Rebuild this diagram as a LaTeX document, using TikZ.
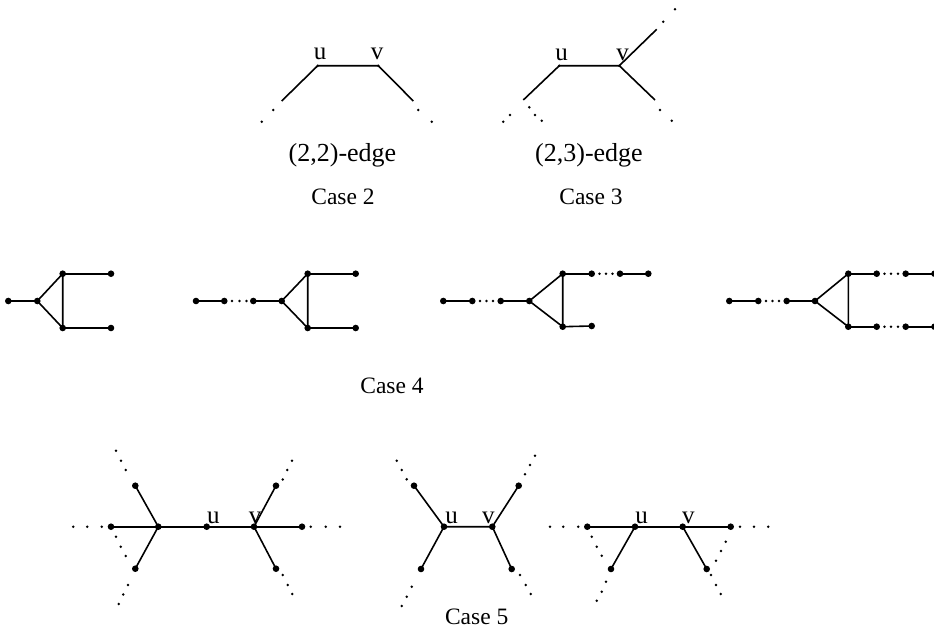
\documentclass[tikz,border=0pt]{standalone}
\usepackage{fontspec}
\setmainfont{Liberation Serif}
\begin{document}
\begin{tikzpicture}[x=0.5pt,y=-0.5pt,
  edge/.style={line width=0.8pt},
  bv/.style={circle,fill,inner sep=0pt,minimum size=3.3pt},
  tv/.style={circle,fill,inner sep=0pt,minimum size=1.4pt},
  lab/.style={font=\fontsize{12.5}{14}\selectfont,anchor=base,inner sep=0pt},
  caplab/.style={font=\fontsize{11.75}{14}\selectfont,inner sep=0pt},
  elab/.style={font=\fontsize{13}{15}\selectfont,inner sep=0pt}]
\useasboundingbox (0,0) rectangle (934,632);

% ---------------- Case 2 ----------------
\node[tv] (c2u) at (317.7,65.7) {};
\node[tv] (c2v) at (378.3,65.7) {};
\coordinate (c2a) at (281.7,101);
\coordinate (c2b) at (413.3,101);
\draw[edge] (c2a) -- (c2u.center) -- (c2v.center) -- (c2b);
\foreach \p in {(273.3,110),(261.7,121.7),(418.3,110),(431.7,121.7)} \fill \p circle (0.7pt);
\node[lab] (c2ul) at (320,59.5) {u};
\node[lab] (c2vl) at (377,59.5) {v};
\node[elab] (c2e) at (342.5,155) {(2,2)-edge};
\node[caplab] (c2c) at (343,196.7) {Case 2};

% ---------------- Case 3 ----------------
\node[tv] (c3u) at (559.3,65.7) {};
\node[tv] (c3v) at (619.3,65.7) {};
\coordinate (c3ll) at (523.3,100);
\coordinate (c3ur) at (656.7,29.3);
\coordinate (c3lr) at (655,100);
\draw[edge] (c3ll) -- (c3u.center) -- (c3v.center) -- (c3ur);
\draw[edge] (c3v.center) -- (c3lr);
\foreach \p in {(663.3,21.7),(675,9.3),(660,110),(671.7,120.7),(510,115),(503.3,121.7),(529.3,107.3),(535,115),(541.7,120.7)} \fill \p circle (0.7pt);
\node[lab] (c3ul) at (561.7,60) {u};
\node[lab] (c3vl) at (622.7,60) {v};
\node[elab] (c3e) at (589,155) {(2,3)-edge};
\node[caplab] (c3c) at (591,196.7) {Case 3};

% ---------------- Case 4, graph 1 ----------------
\node[bv] (a1) at (8.3,301) {};
\node[bv] (a2) at (37.3,301) {};
\node[bv] (a3) at (62.7,273.7) {};
\node[bv] (a4) at (62.7,328) {};
\node[bv] (a5) at (111,273.7) {};
\node[bv] (a6) at (111,328) {};
\draw[edge] (a1.center) -- (a2.center) -- (a3.center) -- (a4.center) -- (a2.center);
\draw[edge] (a3.center) -- (a5.center);
\draw[edge] (a4.center) -- (a6.center);

% ---------------- Case 4, graph 2 ----------------
\node[bv] (b1) at (196,301) {};
\node[bv] (b2) at (224.3,301) {};
\node[bv] (b3) at (253.3,301) {};
\node[bv] (b4) at (281.7,301) {};
\node[bv] (b5) at (307.7,273.7) {};
\node[bv] (b6) at (307.7,328) {};
\node[bv] (b7) at (355.7,273.7) {};
\node[bv] (b8) at (355.7,328) {};
\draw[edge] (b1.center) -- (b2.center);
\draw[edge] (b3.center) -- (b4.center) -- (b5.center) -- (b6.center) -- (b4.center);
\draw[edge] (b5.center) -- (b7.center);
\draw[edge] (b6.center) -- (b8.center);
\foreach \x in {232,239.5,246.5} \fill (\x,301) circle (0.7pt);

% ---------------- Case 4, graph 3 ----------------
\node[bv] (d1) at (443.3,301) {};
\node[bv] (d2) at (472.3,301) {};
\node[bv] (d3) at (500.7,301) {};
\node[bv] (d4) at (529.3,301) {};
\node[bv] (d5) at (562.7,273.7) {};
\node[bv] (d6) at (562.7,326.7) {};
\node[bv] (d7) at (591.7,273.7) {};
\node[bv] (d8) at (620,273.7) {};
\node[bv] (d9) at (648.3,273.7) {};
\node[bv] (d10) at (591.7,326) {};
\draw[edge] (d1.center) -- (d2.center);
\draw[edge] (d3.center) -- (d4.center) -- (d5.center) -- (d6.center) -- (d4.center);
\draw[edge] (d5.center) -- (d7.center);
\draw[edge] (d8.center) -- (d9.center);
\draw[edge] (d6.center) -- (d10.center);
\foreach \x in {480,486.5,493} \fill (\x,301) circle (0.7pt);
\foreach \x in {599.5,606,612.5} \fill (\x,273.7) circle (0.7pt);

% ---------------- Case 4, graph 4 ----------------
\node[bv] (e1) at (729.3,301) {};
\node[bv] (e2) at (758.3,301) {};
\node[bv] (e3) at (786.7,301) {};
\node[bv] (e4) at (815,301) {};
\node[bv] (e5) at (848.3,273.7) {};
\node[bv] (e6) at (848.3,326.7) {};
\node[bv] (e7) at (876.7,273.7) {};
\node[bv] (e8) at (905.7,273.7) {};
\node[bv] (e9) at (934.5,273.7) {};
\node[bv] (e10) at (876.7,326.7) {};
\node[bv] (e11) at (905.7,326.7) {};
\node[bv] (e12) at (934.5,326.7) {};
\draw[edge] (e1.center) -- (e2.center);
\draw[edge] (e3.center) -- (e4.center) -- (e5.center) -- (e6.center) -- (e4.center);
\draw[edge] (e5.center) -- (e7.center);
\draw[edge] (e8.center) -- (e9.center);
\draw[edge] (e6.center) -- (e10.center);
\draw[edge] (e11.center) -- (e12.center);
\foreach \x in {766,772.5,779} \fill (\x,301) circle (0.7pt);
\foreach \x in {884.5,891,898} \fill (\x,273.7) circle (0.7pt);
\foreach \x in {884.5,891,898} \fill (\x,326.7) circle (0.7pt);

\node[caplab] (c4c) at (392,386) {Case 4};

% ---------------- Case 5, graph 1 ----------------
\node[bv] (f1) at (111,526.7) {};
\node[bv] (f2) at (158.3,526.7) {};
\node[bv] (f3) at (206.7,526.7) {};
\node[bv] (f4) at (254,526.7) {};
\node[bv] (f5) at (302,526.7) {};
\node[bv] (f6) at (135.3,485.7) {};
\node[bv] (f7) at (135.3,568.7) {};
\node[bv] (f8) at (276,485.7) {};
\node[bv] (f9) at (276,568.7) {};
\draw[edge] (f1.center) -- (f2.center) -- (f3.center) -- (f4.center) -- (f5.center);
\draw[edge] (f2.center) -- (f6.center);
\draw[edge] (f2.center) -- (f7.center);
\draw[edge] (f4.center) -- (f8.center);
\draw[edge] (f4.center) -- (f9.center);
\foreach \p in {(73.3,526.7),(87.3,526.7),(101.7,526.7),(310.7,526.7),(325.7,526.7),(340,526.7),
  (116,536.7),(120.7,546.7),(125.7,556),(128,585),(123.3,594.5),(118.7,604),
  (282.7,575),(287.7,585),(292.3,594),(116,450.7),(121,460.7),(125.7,470),
  (282.7,479.5),(287.3,470),(292,460.7)} \fill \p circle (0.7pt);
\node[lab] (f3l) at (213.3,523) {u};
\node[lab] (f4l) at (255,523) {v};

% ---------------- Case 5, graph 2 ----------------
\node[bv] (g1) at (444,526.7) {};
\node[bv] (g2) at (492.3,526.7) {};
\node[bv] (g3) at (414,485.7) {};
\node[bv] (g4) at (421,569) {};
\node[bv] (g5) at (518.7,485.7) {};
\node[bv] (g6) at (511.7,569) {};
\draw[edge] (g3.center) -- (g1.center) -- (g2.center) -- (g5.center);
\draw[edge] (g1.center) -- (g4.center);
\draw[edge] (g2.center) -- (g6.center);
\foreach \p in {(396.7,460.7),(401.7,470),(406.7,479.3),(525,474.3),(530,465),(535,455.7),
  (411.7,586.7),(406.7,596.7),(401.7,606),(520,575),(525.7,585),(530.7,594)} \fill \p circle (0.7pt);
\node[lab] (g1l) at (451.7,523) {u};
\node[lab] (g2l) at (488.3,523) {v};
\node[caplab] (c5c) at (476.7,616.7) {Case 5};

% ---------------- Case 5, graph 3 ----------------
\node[bv] (h1) at (587.3,526.7) {};
\node[bv] (h2) at (635,526.7) {};
\node[bv] (h3) at (682.7,526.7) {};
\node[bv] (h4) at (730.7,526.7) {};
\node[bv] (h5) at (611,569) {};
\node[bv] (h6) at (706.7,569) {};
\draw[edge] (h1.center) -- (h2.center) -- (h3.center) -- (h4.center);
\draw[edge] (h2.center) -- (h5.center);
\draw[edge] (h3.center) -- (h6.center);
\foreach \p in {(550,526.7),(563.3,526.7),(578.3,526.7),(740,526.7),(754,526.7),(768.3,526.7),
  (591.7,536.7),(596.7,546.7),(601.7,555.7),(606,581.7),(601.7,591.7),(596.7,600.7),
  (725.7,541.7),(721,551),(716,560.7),(711,575),(716,585),(720.7,594)} \fill \p circle (0.7pt);
\node[lab] (h2l) at (641.7,523) {u};
\node[lab] (h3l) at (688.3,523) {v};
\end{tikzpicture}
\end{document}
